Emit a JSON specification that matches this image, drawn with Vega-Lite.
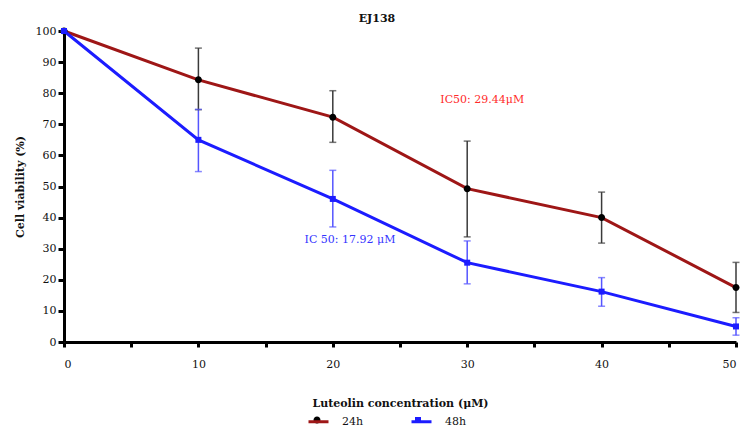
{
  "$schema": "https://vega.github.io/schema/vega-lite/v6.json",
  "width": 672,
  "height": 311,
  "autosize": {"type": "none"},
  "padding": {"left": 64, "top": 31, "right": 6, "bottom": 85},
  "background": "white",
  "title": {"text": "EJ138", "font": "DejaVu Serif", "fontSize": 11, "fontWeight": "bold", "color": "#111", "dx": -23, "offset": 1},
  "config": {
    "view": {"stroke": null},
    "font": "DejaVu Serif"
  },
  "resolve": {"scale": {"color": "independent"}, "legend": {"color": "independent"}},
  "data": {"values": [
    {"conc": 0, "series": "24h", "v": 100, "lo": 100, "hi": 100},
    {"conc": 10, "series": "24h", "v": 84.3, "lo": 74.7, "hi": 94.5},
    {"conc": 20, "series": "24h", "v": 72.3, "lo": 64.2, "hi": 80.8},
    {"conc": 30, "series": "24h", "v": 49.3, "lo": 33.8, "hi": 64.6},
    {"conc": 40, "series": "24h", "v": 40.0, "lo": 31.8, "hi": 48.2},
    {"conc": 50, "series": "24h", "v": 17.5, "lo": 9.5, "hi": 25.6},
    {"conc": 0, "series": "48h", "v": 100, "lo": 100, "hi": 100},
    {"conc": 10, "series": "48h", "v": 65.0, "lo": 54.8, "hi": 74.8},
    {"conc": 20, "series": "48h", "v": 46.0, "lo": 37.0, "hi": 55.2},
    {"conc": 30, "series": "48h", "v": 25.5, "lo": 18.7, "hi": 32.5},
    {"conc": 40, "series": "48h", "v": 16.2, "lo": 11.5, "hi": 20.7},
    {"conc": 50, "series": "48h", "v": 5.0, "lo": 2.2, "hi": 7.8}
  ]},
  "encoding": {
    "x": {"field": "conc", "type": "quantitative",
      "scale": {"domain": [0, 50], "nice": false, "zero": false},
      "axis": {"values": [0,5,10,15,20,25,30,35,40,45,50], "labelExpr": "datum.value % 10 === 0 ? datum.label : ''",
        "grid": false, "domainColor": "black", "domainWidth": 3, "tickColor": "black", "tickWidth": 3, "tickSize": 5,
        "labelFont": "DejaVu Serif", "labelFontSize": 11, "labelColor": "#111", "labelPadding": 11,
        "title": "Luteolin concentration (μM)", "titleFont": "DejaVu Serif", "titleFontSize": 11, "titleFontWeight": "bold", "titleColor": "#111", "titlePadding": 28}},
    "y": {"field": "v", "type": "quantitative",
      "scale": {"domain": [0, 100], "nice": false},
      "axis": {"values": [0,10,20,30,40,50,60,70,80,90,100], "grid": false,
        "domainColor": "black", "domainWidth": 3, "tickColor": "black", "tickWidth": 3, "tickSize": 6,
        "labelFont": "DejaVu Serif", "labelFontSize": 11, "labelColor": "#111", "labelPadding": 2,
        "title": "Cell viability (%)", "titleFont": "DejaVu Serif", "titleFontSize": 11, "titleFontWeight": "bold", "titleColor": "#111", "titlePadding": 10}}
  },
  "layer": [
    {
      "mark": {"type": "line", "strokeWidth": 3},
      "encoding": {
        "color": {"field": "series", "type": "nominal",
          "scale": {"domain": ["24h", "48h"], "range": ["#9e1616", "#1c1cff"]},
          "legend": {"title": null, "orient": "none", "legendX": 243, "legendY": 379, "direction": "horizontal",
            "symbolType": "stroke", "symbolSize": 400, "symbolStrokeWidth": 3, "labelFont": "DejaVu Serif", "labelFontSize": 11, "labelColor": "#111",
            "labelOffset": 12, "columnPadding": 41}}
      }
    },
    {
      "mark": {"type": "rule", "strokeWidth": 1.5},
      "encoding": {
        "y": {"field": "lo", "type": "quantitative"},
        "y2": {"field": "hi"},
        "stroke": {"field": "series", "type": "nominal", "scale": {"domain": ["24h", "48h"], "range": ["#3a3a3a", "#5555ff"]}, "legend": null}
      }
    },
    {
      "mark": {"type": "tick", "orient": "horizontal", "size": 7, "thickness": 1.5},
      "encoding": {
        "y": {"field": "lo", "type": "quantitative"},
        "color": {"field": "series", "type": "nominal", "scale": {"domain": ["24h", "48h"], "range": ["#3a3a3a", "#5555ff"]}, "legend": null}
      }
    },
    {
      "mark": {"type": "tick", "orient": "horizontal", "size": 7, "thickness": 1.5},
      "encoding": {
        "y": {"field": "hi", "type": "quantitative"},
        "color": {"field": "series", "type": "nominal", "scale": {"domain": ["24h", "48h"], "range": ["#3a3a3a", "#5555ff"]}, "legend": null}
      }
    },
    {
      "mark": {"type": "point", "filled": true, "opacity": 1, "size": 400, "strokeWidth": 0},
      "encoding": {
        "fill": {"field": "series", "type": "nominal",
          "scale": {"range": ["#000000", "#1c1cff"]},
          "legend": {"title": null, "orient": "none", "legendX": 243, "legendY": 379, "direction": "horizontal",
            "symbolSize": 400, "symbolStrokeWidth": 0, "symbolOpacity": 1, "labelExpr": "''", "labelFontSize": 11,
            "labelOffset": 12, "columnPadding": 69}},
        "shape": {"field": "series", "type": "nominal",
          "scale": {"range": ["M-0.35,0A0.35,0.35 0 1,0 0.35,0A0.35,0.35 0 1,0 -0.35,0Z", "M-0.3,-0.3H0.3V0.3H-0.3Z"]},
          "legend": {"title": null, "orient": "none", "legendX": 243, "legendY": 379, "direction": "horizontal",
            "symbolSize": 400, "symbolStrokeWidth": 0, "symbolOpacity": 1, "labelExpr": "''", "labelFontSize": 11,
            "labelOffset": 12, "columnPadding": 69}}
      }
    },
    {
      "data": {"values": [
        {"conc": 28.0, "v": 77.8, "label": "IC50: 29.44μM", "series": "24h"},
        {"conc": 17.9, "v": 32.8, "label": "IC 50: 17.92 μM", "series": "48h"}
      ]},
      "mark": {"type": "text", "align": "left", "baseline": "middle", "font": "DejaVu Serif", "fontSize": 11},
      "encoding": {
        "text": {"field": "label"},
        "fill": {"condition": {"test": "datum.series === '48h'", "value": "#3434ff"}, "value": "#ff2a2a"}
      }
    }
  ]
}
